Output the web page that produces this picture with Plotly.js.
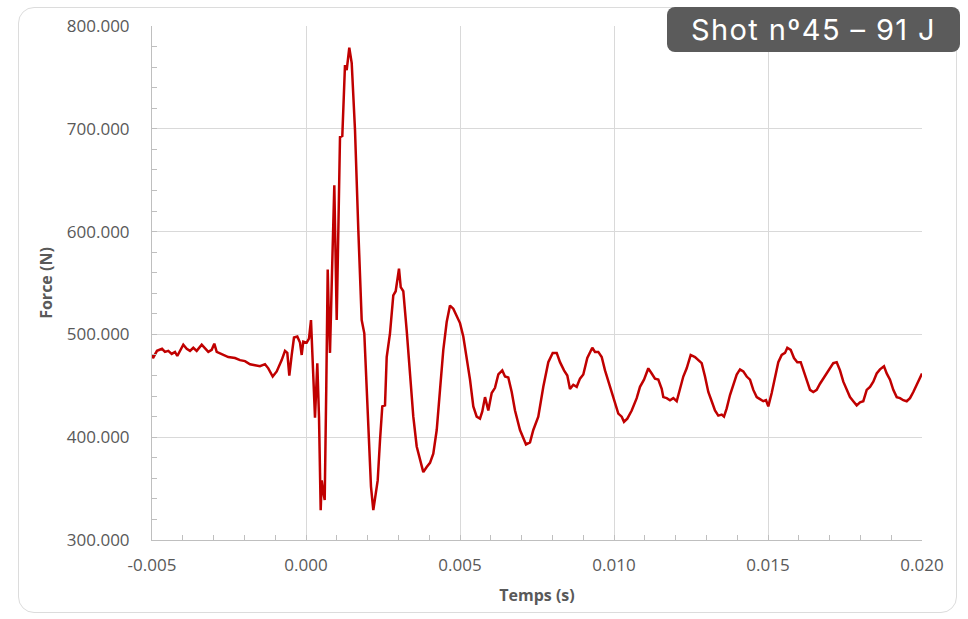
<!DOCTYPE html>
<html>
<head>
<meta charset="utf-8">
<script src="https://cdn.plot.ly/plotly-3.0.1.min.js"></script>
<style>
  html, body { margin: 0; padding: 0; background: #ffffff; }
  #wrap { position: relative; width: 968px; height: 619px; overflow: hidden; }
  #card {
    position: absolute; left: 18px; top: 7px; width: 939px; height: 606px;
    border: 1px solid #dcdcdc; border-radius: 16px; box-sizing: border-box;
  }
  #chart { position: absolute; left: 0; top: 0; width: 968px; height: 619px; }
  #badge {
    position: absolute; left: 667px; top: 7px; width: 293px; height: 45px;
    background: #5b5b5b; border-radius: 8px; color: #ffffff;
    font-family: "Inter", "Open Sans", sans-serif; font-size: 29px; font-weight: 400;
    line-height: 45px; text-align: center; letter-spacing: 1.4px;
  }
</style>
</head>
<body>
<div id="wrap">
  <div id="card"></div>
  <div id="chart"></div>
  <div id="badge">Shot nº45 – 91 J</div>
</div>
<script>
// Impact force recording: time (s) and measured force (N)
const time = [
  -0.005000, -0.004968, -0.004838, -0.004675, -0.004578, -0.004471, -0.004360, -0.004253, -0.004179, -0.003984,
  -0.003873, -0.003766, -0.003659, -0.003549, -0.003386, -0.003279, -0.003172, -0.003062, -0.002977, -0.002899,
  -0.002737, -0.002523, -0.002305, -0.002143, -0.001981, -0.001818, -0.001656, -0.001494, -0.001331, -0.001224,
  -0.001081, -0.000951, -0.000789, -0.000682, -0.000607, -0.000542, -0.000464, -0.000390, -0.000282, -0.000195,
  -0.000140, -0.000088, 0.000023, 0.000097, 0.000162, 0.000227, 0.000292, 0.000367, 0.000422, 0.000477,
  0.000510, 0.000552, 0.000607, 0.000659, 0.000705, 0.000747, 0.000779, 0.000844, 0.000919, 0.000958,
  0.000997, 0.001049, 0.001104, 0.001179, 0.001266, 0.001321, 0.001406, 0.001484, 0.001591, 0.001698,
  0.001753, 0.001808, 0.001893, 0.002003, 0.002110, 0.002185, 0.002263, 0.002328, 0.002403, 0.002477,
  0.002565, 0.002620, 0.002727, 0.002834, 0.002912, 0.003019, 0.003075, 0.003159, 0.003269, 0.003377,
  0.003484, 0.003594, 0.003701, 0.003808, 0.003919, 0.004026, 0.004133, 0.004244, 0.004351, 0.004458,
  0.004568, 0.004675, 0.004782, 0.004893, 0.005000, 0.005107, 0.005218, 0.005325, 0.005432, 0.005542,
  0.005649, 0.005724, 0.005812, 0.005919, 0.006029, 0.006136, 0.006244, 0.006373, 0.006461, 0.006568,
  0.006679, 0.006786, 0.006948, 0.007055, 0.007143, 0.007273, 0.007380, 0.007542, 0.007705, 0.007867,
  0.008010, 0.008140, 0.008247, 0.008377, 0.008484, 0.008571, 0.008679, 0.008789, 0.008896, 0.009003,
  0.009133, 0.009295, 0.009383, 0.009490, 0.009601, 0.009708, 0.009870, 0.010000, 0.010140, 0.010250,
  0.010325, 0.010432, 0.010575, 0.010737, 0.010844, 0.010974, 0.011114, 0.011224, 0.011331, 0.011438,
  0.011549, 0.011601, 0.011711, 0.011818, 0.011925, 0.012036, 0.012143, 0.012250, 0.012360, 0.012490,
  0.012630, 0.012847, 0.012955, 0.013062, 0.013172, 0.013279, 0.013386, 0.013497, 0.013571, 0.013659,
  0.013766, 0.013873, 0.013984, 0.014091, 0.014198, 0.014308, 0.014416, 0.014523, 0.014633, 0.014740,
  0.014847, 0.014935, 0.015010, 0.015120, 0.015227, 0.015334, 0.015445, 0.015552, 0.015627, 0.015737,
  0.015844, 0.015951, 0.016062, 0.016169, 0.016256, 0.016364, 0.016471, 0.016581, 0.016688, 0.016795,
  0.016906, 0.017013, 0.017120, 0.017231, 0.017338, 0.017445, 0.017555, 0.017662, 0.017769, 0.017880,
  0.017987, 0.018094, 0.018205, 0.018312, 0.018419, 0.018529, 0.018636, 0.018766, 0.018854, 0.018961,
  0.019068, 0.019179, 0.019286, 0.019393, 0.019503, 0.019610, 0.019718, 0.019828, 0.019935, 0.020000
];

const force = [
  480, 477, 484, 486, 483, 484, 481, 483, 479, 490,
  486, 484, 487, 484, 490, 486, 483, 485, 491, 483,
  481, 478, 477, 475, 474, 471, 470, 469, 471, 467,
  459, 464, 475, 484, 482, 460, 480, 497, 498, 492,
  480, 493, 492, 496, 514, 470, 419, 472, 420, 329,
  358, 348, 339, 450, 563, 510, 482, 560, 645, 580,
  514, 600, 692, 693, 762, 757, 779, 764, 699, 602,
  553, 514, 501, 417, 352, 329, 346, 358, 397, 430,
  431, 478, 501, 538, 542, 564, 546, 542, 504, 462,
  420, 391, 378, 366, 371, 375, 384, 407, 446, 485,
  512, 528, 525, 517, 511, 498, 478, 456, 430, 420,
  418, 425, 439, 426, 443, 448, 461, 465, 459, 458,
  444, 426, 407, 400, 393, 395, 407, 420, 449, 473,
  482, 482, 473, 465, 460, 447, 451, 449, 457, 461,
  477, 487, 483, 483, 478, 465, 449, 435, 423, 420,
  415, 418, 426, 438, 449, 456, 467, 462, 457, 456,
  447, 439, 438, 436, 438, 435, 446, 459, 467, 480,
  478, 472, 459, 444, 435, 426, 421, 422, 420, 428,
  441, 451, 461, 466, 464, 459, 456, 446, 439, 437,
  435, 436, 430, 443, 457, 473, 480, 482, 487, 485,
  477, 473, 473, 464, 456, 446, 444, 446, 452, 457,
  462, 467, 472, 473, 465, 454, 446, 439, 435, 431,
  434, 435, 446, 449, 454, 462, 466, 469, 462, 456,
  446, 439, 438, 436, 435, 438, 444, 451, 457, 462
];

// Axis ticks and their printed labels
const xTickVals = [-0.005, 0.000, 0.005, 0.010, 0.015, 0.020];
const xTickLabels = ['-0.005', '0.000', '0.005', '0.010', '0.015', '0.020'];
const yTickVals = [300, 400, 500, 600, 700, 800];
const yTickLabels = ['300.000', '400.000', '500.000', '600.000', '700.000', '800.000'];

const xTitle = 'Temps (s)';
const yTitle = 'Force (N)';

const labelFont = { family: 'Open Sans, sans-serif', size: 17, color: '#595959' };
const titleFont = { family: 'Open Sans, sans-serif', size: 16, color: '#595959', weight: 700 };

const trace = {
  x: time,
  y: force,
  type: 'scatter',
  mode: 'lines',
  line: { color: '#c00000', width: 2.5, shape: 'linear' },
  hoverinfo: 'skip'
};

const layout = {
  width: 968,
  height: 619,
  margin: { l: 152, r: 46, t: 26, b: 79 },
  paper_bgcolor: 'rgba(0,0,0,0)',
  plot_bgcolor: 'rgba(0,0,0,0)',
  showlegend: false,
  xaxis: {
    range: [-0.005, 0.020],
    tickmode: 'array',
    tickvals: xTickVals,
    ticktext: xTickLabels,
    showgrid: true,
    gridcolor: '#d9d9d9',
    gridwidth: 1,
    zeroline: false,
    showline: true,
    linecolor: '#bfbfbf',
    linewidth: 1,
    ticks: 'inside',
    ticklen: 5,
    tickcolor: '#bfbfbf',
    ticklabelstandoff: 10,
    minor: { tick0: -0.005, dtick: 0.001, ticks: 'inside', ticklen: 5, tickcolor: '#bfbfbf', showgrid: false },
    tickfont: labelFont,
    title: { text: xTitle, font: titleFont, standoff: 14 },
    fixedrange: true
  },
  yaxis: {
    range: [300, 800],
    tickmode: 'array',
    tickvals: yTickVals,
    ticktext: yTickLabels,
    showgrid: true,
    gridcolor: '#d9d9d9',
    gridwidth: 1,
    zeroline: false,
    showline: true,
    linecolor: '#bfbfbf',
    linewidth: 1,
    ticks: 'inside',
    ticklen: 5,
    tickcolor: '#bfbfbf',
    ticklabelstandoff: 18,
    minor: { tick0: 300, dtick: 20, ticks: 'inside', ticklen: 5, tickcolor: '#bfbfbf', showgrid: false },
    tickfont: labelFont,
    title: { text: yTitle, font: titleFont, standoff: 10 },
    fixedrange: true
  }
};

Plotly.newPlot('chart', [trace], layout, { displayModeBar: false, staticPlot: true });
</script>
</body>
</html>
